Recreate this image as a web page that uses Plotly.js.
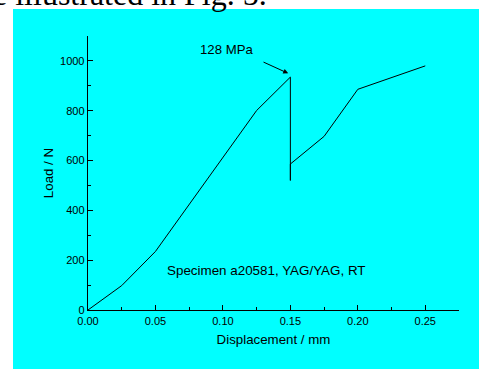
<!DOCTYPE html>
<html>
<head>
<meta charset="utf-8">
<script src="https://cdn.plot.ly/plotly-3.0.1.min.js"></script>
<style>
  html, body { margin: 0; padding: 0; background: #ffffff; width: 479px; height: 369px; overflow: hidden; }
  #bg { position: absolute; left: 13px; top: 9px; width: 466px; height: 360px; background: #00ffff; }
  #cap { position: absolute; left: -7px; top: -22.5px; font-family: "Liberation Serif", "Times New Roman", serif; font-size: 32px; line-height: 32px; color: #000; white-space: nowrap; }
  #chart { position: absolute; left: 0; top: 0; width: 479px; height: 369px; }
</style>
</head>
<body>
<div id="bg"></div>
<div id="cap">e illustrated in Fig. 5.</div>
<div id="chart"></div>
<script>
// Data
const displacement = [0.000, 0.025, 0.050, 0.125, 0.150, 0.150, 0.150, 0.175, 0.200, 0.250];
const load         = [0,     98,    235,   801,   935,   520,   586,   697,   886,   980];

const xTickVals = [0.00, 0.05, 0.10, 0.15, 0.20, 0.25];
const yTickVals = [0, 200, 400, 600, 800, 1000];

const peakLabel = "128 MPa";
const specimenLabel = "Specimen a20581, YAG/YAG, RT";
const xTitle = "Displacement / mm";
const yTitle = "Load / N";

// annotation anchor positions (data units)
const peakLabelPos = [0.1027, 1044];
const arrowHead = [0.1484, 950];
const arrowTail = [0.129, 998];
const specimenPos = [0.132, 159];

const font = { family: "Liberation Sans, Arial, sans-serif", color: "#000000" };

const trace = {
  x: displacement, y: load, type: "scatter", mode: "lines",
  line: { color: "#000000", width: 1 }, hoverinfo: "skip"
};

const layout = {
  width: 479, height: 369,
  margin: { l: 88, r: 20, t: 36, b: 59 },
  paper_bgcolor: "rgba(0,0,0,0)", plot_bgcolor: "rgba(0,0,0,0)",
  showlegend: false,
  font: Object.assign({ size: 11 }, font),
  xaxis: {
    range: [0, 0.275], showgrid: false, zeroline: false,
    showline: true, linecolor: "#000", linewidth: 1.3,
    ticks: "inside", ticklen: 5, tickwidth: 1, tickcolor: "#000",
    tickvals: xTickVals, ticktext: xTickVals.map(v => v.toFixed(2)),
    tickfont: Object.assign({ size: 11 }, font),
    minor: { dtick: 0.025, tick0: 0, ticks: "inside", ticklen: 3, tickwidth: 1, tickcolor: "#000", showgrid: false },
    title: { text: xTitle, font: Object.assign({ size: 13.3 }, font), standoff: 9 },
    automargin: false, fixedrange: true
  },
  yaxis: {
    range: [0, 1100], showgrid: false, zeroline: false,
    showline: true, linecolor: "#000", linewidth: 1.3,
    ticks: "inside", ticklen: 5, tickwidth: 1, tickcolor: "#000",
    tickvals: yTickVals, ticktext: yTickVals.map(String),
    tickfont: Object.assign({ size: 11 }, font),
    minor: { dtick: 100, tick0: 0, ticks: "inside", ticklen: 3, tickwidth: 1, tickcolor: "#000", showgrid: false },
    title: { text: yTitle, font: Object.assign({ size: 13.3 }, font), standoff: 3 },
    automargin: false, fixedrange: true
  },
  annotations: [
    { x: peakLabelPos[0], y: peakLabelPos[1], xref: "x", yref: "y", text: peakLabel, showarrow: false,
      font: Object.assign({ size: 13.2 }, font), xanchor: "center", yanchor: "middle" },
    { x: arrowHead[0], y: arrowHead[1], xref: "x", yref: "y", ax: arrowTail[0], ay: arrowTail[1],
      axref: "x", ayref: "y", text: "", showarrow: true, arrowhead: 2, arrowsize: 1, arrowwidth: 1,
      arrowcolor: "#000", standoff: 0, startstandoff: 0 },
    { x: specimenPos[0], y: specimenPos[1], xref: "x", yref: "y", text: specimenLabel, showarrow: false,
      font: Object.assign({ size: 13.4 }, font), xanchor: "center", yanchor: "middle" }
  ]
};

Plotly.newPlot("chart", [trace], layout, { staticPlot: true, displayModeBar: false });
</script>
</body>
</html>
